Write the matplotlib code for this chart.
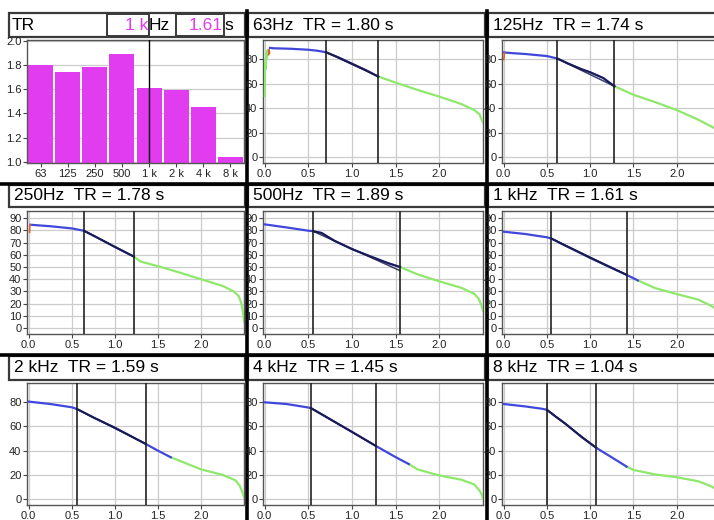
import numpy as np
import matplotlib
matplotlib.use('Agg')
import matplotlib.pyplot as plt
from matplotlib.patches import Rectangle

plt.rcParams['font.family'] = ['Liberation Sans', 'DejaVu Sans']

# ── Data ──────────────────────────────────────────────────────────────────────

BANDS = ['63', '125', '250', '500', '1 k', '2 k', '4 k', '8 k']
PANEL_BANDS = ['63Hz', '125Hz', '250Hz', '500Hz', '1 kHz', '2 kHz', '4 kHz', '8 kHz']
TR_S = [1.80, 1.74, 1.78, 1.89, 1.61, 1.59, 1.45, 1.04]
SELECTED = '1 k'

# 63 Hz
NOISE_T_63 = [0.0, 0.005, 0.01, 0.015, 0.02, 0.025, 0.03, 0.035, 0.04]
NOISE_DB_63 = [50, 78, 72, 85, 80, 87, 83, 88, 85]
RED_T_63 = [0.045, 0.05, 0.055]
RED_DB_63 = [84, 88, 85.5]
BLUE_T_63 = [0.06, 0.1, 0.3, 0.5, 0.6, 0.7, 0.85, 1.0, 1.15, 1.3]
BLUE_DB_63 = [89.5, 89.2, 88.8, 88.0, 87.2, 86.0, 81.5, 76.5, 71.5, 66.0]
GREEN_T_63 = [1.3, 1.5, 1.75, 2.0, 2.25, 2.4, 2.46, 2.5]
GREEN_DB_63 = [66, 61, 55, 49.5, 43.5, 38.5, 35, 28]
EVAL_63 = [0.70, 1.30]
REG_DB_63 = [86, 66]

# 125 Hz
RED_T_125 = [0.0, 0.004, 0.008]
RED_DB_125 = [80, 82, 85.5]
BLUE_T_125 = [0.0, 0.1, 0.25, 0.5, 0.62, 0.75, 0.9, 1.0, 1.15, 1.28]
BLUE_DB_125 = [85.8, 85.2, 84.5, 82.8, 80.8, 76.5, 72.0, 69.5, 64.8, 58.0]
GREEN_T_125 = [1.28, 1.5, 1.75, 2.0, 2.25, 2.4, 2.5]
GREEN_DB_125 = [58, 51, 45, 38.5, 30.5, 25, 21]
EVAL_125 = [0.615, 1.28]
REG_DB_125 = [80.8, 58.0]

# 250 Hz
RED_T_250 = [0.01, 0.012, 0.02]
RED_DB_250 = [78.5, 84, 84.7]
BLUE_T_250 = [0.02, 0.25, 0.5, 0.64, 0.8, 1.0, 1.22]
BLUE_DB_250 = [84.7, 83.5, 81.7, 79.8, 74.0, 66.5, 58.6]
GREEN_T_250 = [1.22, 1.3, 1.5, 1.75, 2.0, 2.25, 2.38, 2.44, 2.47, 2.49, 2.5]
GREEN_DB_250 = [58.6, 54.5, 50.7, 45.5, 40, 34.5, 30, 26, 20, 12, 5]
EVAL_250 = [0.642, 1.22]
REG_DB_250 = [79.8, 58.6]

# 500 Hz
BLUE_T_500 = [0.0, 0.25, 0.5, 0.55, 0.65, 0.8, 1.0, 1.2, 1.4, 1.55]
BLUE_DB_500 = [85, 82.5, 79.8, 79.5, 78.0, 71.5, 64.7, 59, 53.5, 50]
GREEN_T_500 = [1.55, 1.75, 2.0, 2.25, 2.4, 2.45, 2.48, 2.5]
GREEN_DB_500 = [50, 44, 38.2, 33, 28, 24, 19, 14]
EVAL_500 = [0.55, 1.55]
REG_DB_500 = [79.5, 47]

# 1 kHz
BLUE_T_1K = [0.0, 0.25, 0.5, 0.55, 0.7, 0.85, 1.0, 1.15, 1.3, 1.42, 1.55]
BLUE_DB_1K = [79, 77.1, 74.4, 73.4, 68.0, 62.8, 57.5, 52.5, 47.5, 43.6, 39]
GREEN_T_1K = [1.55, 1.75, 2.0, 2.25, 2.4, 2.5]
GREEN_DB_1K = [39, 32.7, 27.8, 23.2, 18, 13.5]
EVAL_1K = [0.546, 1.42]
REG_DB_1K = [73.6, 43.6]

# 2 kHz
BLUE_T_2K = [0.0, 0.25, 0.5, 0.56, 0.75, 1.0, 1.2, 1.36, 1.5, 1.65]
BLUE_DB_2K = [80.6, 78.6, 75.9, 74.5, 67.5, 59, 51.5, 45.5, 40, 34.5]
GREEN_T_2K = [1.65, 1.75, 2.0, 2.25, 2.4, 2.45, 2.48, 2.5]
GREEN_DB_2K = [34.5, 31.7, 24.5, 20, 15.5, 11, 6, 1.5]
EVAL_2K = [0.558, 1.36]
REG_DB_2K = [74.5, 45.5]

# 4 kHz
BLUE_T_4K = [0.0, 0.25, 0.5, 0.53, 0.75, 1.0, 1.27, 1.5, 1.65]
BLUE_DB_4K = [80, 78.6, 75.7, 75.2, 66, 55.5, 44, 34.6, 28.9]
GREEN_T_4K = [1.65, 1.75, 2.0, 2.25, 2.4, 2.46, 2.49, 2.5]
GREEN_DB_4K = [28.9, 24.5, 19.4, 16, 12, 7, 3, 0]
EVAL_4K = [0.527, 1.27]
REG_DB_4K = [75.2, 44]

# 8 kHz
BLUE_T_8K = [0.0, 0.25, 0.45, 0.5, 0.6, 0.71, 0.9, 1.07, 1.25, 1.42]
BLUE_DB_8K = [78.6, 76.6, 74.6, 73.8, 68.2, 62.5, 51.3, 42.3, 34.4, 26.8]
GREEN_T_8K = [1.42, 1.5, 1.75, 2.0, 2.25, 2.4, 2.5]
GREEN_DB_8K = [26.8, 24, 20.3, 18, 14.6, 10.4, 6.2]
EVAL_8K = [0.5, 1.07]
REG_DB_8K = [73.8, 42.3]

DECAYS = [
    (BLUE_T_63, BLUE_DB_63, GREEN_T_63, GREEN_DB_63, EVAL_63, REG_DB_63),
    (BLUE_T_125, BLUE_DB_125, GREEN_T_125, GREEN_DB_125, EVAL_125, REG_DB_125),
    (BLUE_T_250, BLUE_DB_250, GREEN_T_250, GREEN_DB_250, EVAL_250, REG_DB_250),
    (BLUE_T_500, BLUE_DB_500, GREEN_T_500, GREEN_DB_500, EVAL_500, REG_DB_500),
    (BLUE_T_1K, BLUE_DB_1K, GREEN_T_1K, GREEN_DB_1K, EVAL_1K, REG_DB_1K),
    (BLUE_T_2K, BLUE_DB_2K, GREEN_T_2K, GREEN_DB_2K, EVAL_2K, REG_DB_2K),
    (BLUE_T_4K, BLUE_DB_4K, GREEN_T_4K, GREEN_DB_4K, EVAL_4K, REG_DB_4K),
    (BLUE_T_8K, BLUE_DB_8K, GREEN_T_8K, GREEN_DB_8K, EVAL_8K, REG_DB_8K),
]
RED_BITS = {0: (RED_T_63, RED_DB_63), 1: (RED_T_125, RED_DB_125),
            2: (RED_T_250, RED_DB_250)}

# ── Layout (pixels, top-left origin) ──────────────────────────────────────────

W, H = 714, 520
COL_PLOT = [(27, 244), (263, 483), (502, 720)]
ROW_PLOT = [(40, 163), (211, 334), (383, 505)]
COL_TITLE = [(9, 245), (248, 485), (488, 730)]
ROW_TITLE = [(13, 37), (185, 207), (356, 380)]

C_BAR = '#e23cf0'
C_BLUE = '#4048dc'
C_NAVY = '#1b1b4e'
C_GREEN = '#8ee86a'
C_RED = '#e0602a'
C_GRID = '#cccccc'
C_EDGE = '#3a3a3a'


def px_axes(fig, x0, y0, x1, y1):
    return fig.add_axes([x0 / W, 1 - y1 / H, (x1 - x0) / W, (y1 - y0) / H])


def style_axes(ax):
    for sp in ax.spines.values():
        sp.set_color('#555555')
        sp.set_linewidth(1.0)
    ax.tick_params(labelsize=8, length=3, width=0.8, pad=1,
                   color='#444444', labelcolor='#222222')
    ax.grid(True, color=C_GRID, linewidth=0.9)
    ax.set_axisbelow(True)


fig = plt.figure(figsize=(W / 100, H / 100), dpi=100)

# background: dividers and title boxes
bg = fig.add_axes([0, 0, 1, 1], zorder=-5)
bg.set_xlim(0, W)
bg.set_ylim(H, 0)
bg.axis('off')
for xd in (246.5, 486.5):
    bg.plot([xd, xd], [11, H], color='black', linewidth=2.6)
for yd in (183.5, 354.5):
    bg.plot([0, W], [yd, yd], color='black', linewidth=2.6)
for (ty0, ty1) in ROW_TITLE:
    for (tx0, tx1) in COL_TITLE:
        bg.add_patch(Rectangle((tx0, ty0), tx1 - tx0, ty1 - ty0,
                               facecolor='white', edgecolor=C_EDGE, linewidth=1.6))

# ── TR overview panel ─────────────────────────────────────────────────────────
ty0, ty1 = ROW_TITLE[0]
tmid = (ty0 + ty1) / 2
sel = BANDS.index(SELECTED)
bg.text(12, tmid, 'TR', fontsize=12.5, va='center', ha='left')
bg.add_patch(Rectangle((107, ty0 + 1), 42, ty1 - ty0 - 2,
                       facecolor='white', edgecolor=C_EDGE, linewidth=1.4))
bg.add_patch(Rectangle((176, ty0 + 1), 48, ty1 - ty0 - 2,
                       facecolor='white', edgecolor=C_EDGE, linewidth=1.4))
bg.text(148, tmid, SELECTED, fontsize=12.5, va='center', ha='right', color=C_BAR)
bg.text(149, tmid, 'Hz', fontsize=12.5, va='center', ha='left')
bg.text(223, tmid, f'{TR_S[sel]:.2f}', fontsize=12.5, va='center', ha='right', color=C_BAR)
bg.text(224, tmid, 's', fontsize=12.5, va='center', ha='left')

ax = px_axes(fig, COL_PLOT[0][0], ROW_PLOT[0][0], COL_PLOT[0][1], ROW_PLOT[0][1])
style_axes(ax)
xb = np.arange(len(BANDS))
ax.bar(xb, TR_S, width=0.92, color=C_BAR, zorder=2)
ax.axvline(sel, color='black', linewidth=1.0, zorder=3)
ax.set_xlim(-0.5, len(BANDS) - 0.5)
ax.set_ylim(0.99, 2.005)
ax.set_yticks(np.arange(1.0, 2.01, 0.2))
ax.set_yticklabels([f'{v:.1f}' for v in np.arange(1.0, 2.01, 0.2)])
ax.set_xticks(xb)
ax.set_xticklabels(BANDS)
ax.grid(False, axis='x')

# ── Decay panels ──────────────────────────────────────────────────────────────
for i, (bt, bdb, gt, gdb, ev, reg) in enumerate(DECAYS):
    cell = i + 1
    r, c = divmod(cell, 3)
    tx0, tx1 = COL_TITLE[c]
    ty0, ty1 = ROW_TITLE[r]
    bg.text(tx0 + 5, (ty0 + ty1) / 2, f'{PANEL_BANDS[i]}  TR = {TR_S[i]:.2f} s',
            fontsize=12.5, va='center', ha='left')

    ax = px_axes(fig, COL_PLOT[c][0], ROW_PLOT[r][0], COL_PLOT[c][1], ROW_PLOT[r][1])
    style_axes(ax)
    ax.plot(gt, gdb, color=C_GREEN, linewidth=1.6, zorder=3)
    if i == 0:
        ax.plot(NOISE_T_63, NOISE_DB_63, color=C_GREEN, linewidth=1.4, zorder=3)
    ax.plot(bt, bdb, color=C_BLUE, linewidth=1.6, zorder=4)
    if i in RED_BITS:
        ax.plot(*RED_BITS[i], color=C_RED, linewidth=1.2, zorder=4)

    # evaluated part of the decay, darkened, plus the regression line
    bt_a = np.asarray(bt)
    inner = bt_a[(bt_a > ev[0]) & (bt_a < ev[1])]
    seg_t = np.concatenate([[ev[0]], inner, [ev[1]]])
    seg_db = np.interp(seg_t, bt, bdb)
    ax.plot(seg_t, seg_db, color=C_NAVY, linewidth=1.3, zorder=5)
    ax.plot(ev, reg, color=C_NAVY, linewidth=1.1, zorder=5, alpha=0.85)
    for tv in ev:
        ax.axvline(tv, color='#222222', linewidth=1.2, zorder=6)

    ax.set_xlim(-0.02, 2.5)
    ax.set_ylim(-5, 96)
    ax.set_xticks([0.0, 0.5, 1.0, 1.5, 2.0])
    ax.set_xticklabels(['0.0', '0.5', '1.0', '1.5', '2.0'])
    step = 10 if r == 1 else 20
    ax.set_yticks(np.arange(0, 91, step))

fig.savefig('out.png', dpi=100)
